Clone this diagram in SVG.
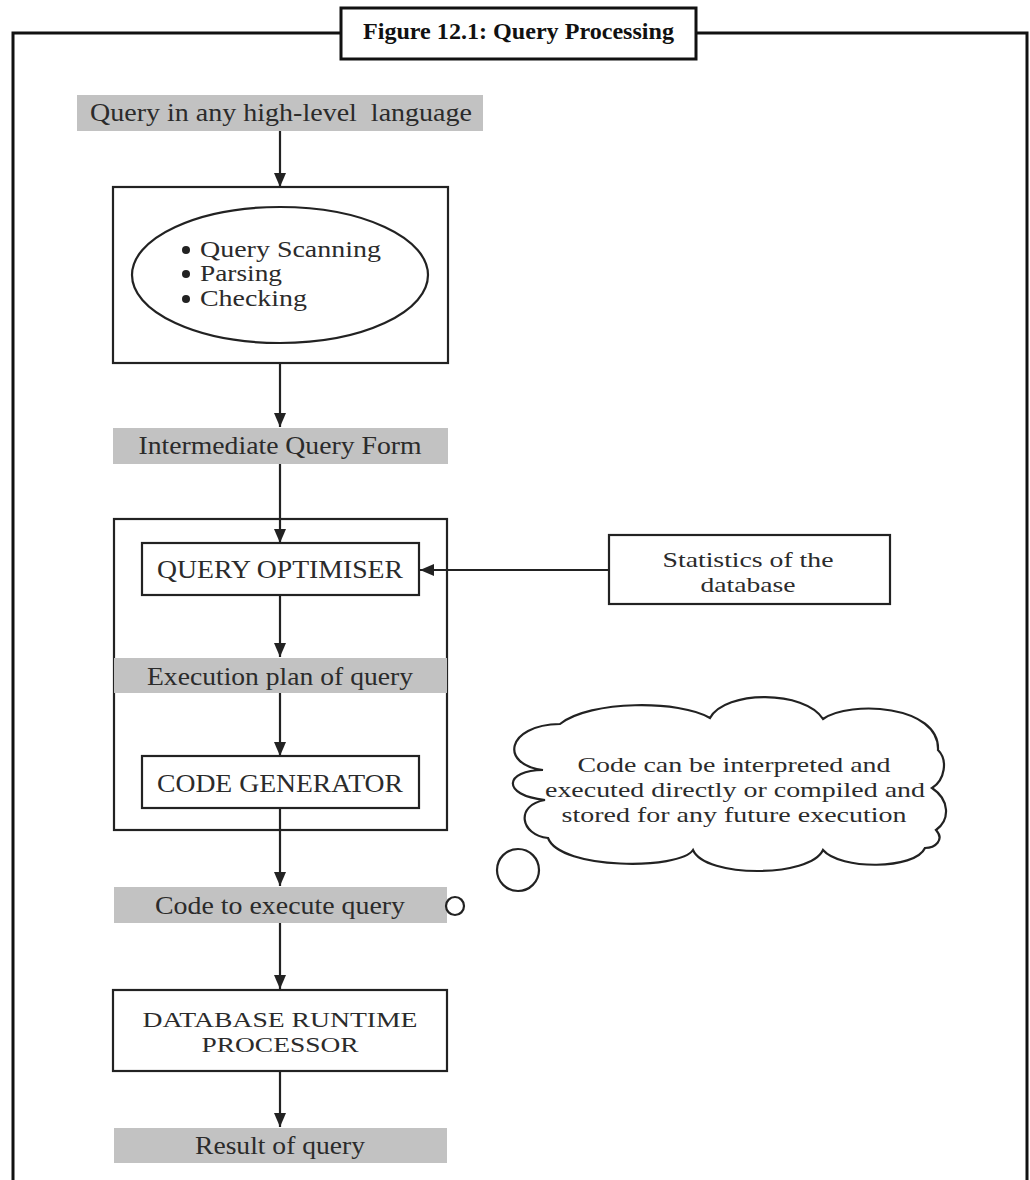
<svg xmlns="http://www.w3.org/2000/svg" width="1030" height="1180" viewBox="0 0 1030 1180">
<style>
.box{fill:#fff;stroke:#222;stroke-width:2.2}
.band{fill:#c2c2c2;stroke:none}
.t{font-family:"Liberation Serif","Times New Roman",serif;font-size:26px;fill:#2b2b2b;text-anchor:middle}
.s{font-size:22px}
.tl{font-family:"Liberation Serif","Times New Roman",serif;font-size:22.5px;fill:#2b2b2b}
.conn{stroke:#222;stroke-width:2.2;fill:none;marker-end:url(#ah)}
</style>
<defs>
<marker id="ah" viewBox="0 0 14 12" refX="14" refY="6" markerWidth="14" markerHeight="12" markerUnits="userSpaceOnUse" orient="auto">
<path d="M0,0 L14,6 L0,12 z" fill="#222"/>
</marker>
</defs>
<rect width="1030" height="1180" fill="#fff"/>
<g id="frame">
<path d="M13,1180 V33 H341 M696,33 H1027 V1180" fill="none" stroke="#111" stroke-width="3"/>
<rect x="341" y="8" width="355" height="51" fill="#fff" stroke="#111" stroke-width="3"/>
<text x="518.5" y="39" font-family="'Liberation Serif','Times New Roman',serif" font-weight="bold" font-size="23" fill="#111" text-anchor="middle" textLength="311" lengthAdjust="spacingAndGlyphs">Figure 12.1: Query Processing</text>
</g>
<g id="connectors">
<line class="conn" x1="280" y1="131" x2="280" y2="187"/>
<line class="conn" x1="280" y1="363" x2="280" y2="427"/>
<line class="conn" x1="280" y1="464" x2="280" y2="543"/>
<line class="conn" x1="609" y1="570" x2="420" y2="570"/>
<line class="conn" x1="280" y1="595" x2="280" y2="657"/>
<line class="conn" x1="280" y1="693" x2="280" y2="756"/>
<line class="conn" x1="280" y1="808" x2="280" y2="886"/>
<line class="conn" x1="280" y1="923" x2="280" y2="989"/>
<line class="conn" x1="280" y1="1071" x2="280" y2="1127"/>
</g>
<g id="query-input">
<rect class="band" x="77" y="95" width="406" height="36"/>
<text class="t" x="281" y="121" xml:space="preserve" textLength="382" lengthAdjust="spacingAndGlyphs">Query in any high-level  language</text>
</g>
<g id="scanning">
<rect class="box" x="113" y="187" width="335" height="176"/>
<ellipse cx="280" cy="275" rx="148" ry="68" fill="#fff" stroke="#222" stroke-width="2.2"/>
<circle cx="186" cy="250" r="4" fill="#222"/>
<circle cx="186" cy="274" r="4" fill="#222"/>
<circle cx="186" cy="299" r="4" fill="#222"/>
<text class="tl" x="200" y="257" textLength="181" lengthAdjust="spacingAndGlyphs">Query Scanning</text>
<text class="tl" x="200" y="281" textLength="82" lengthAdjust="spacingAndGlyphs">Parsing</text>
<text class="tl" x="200" y="306" textLength="107" lengthAdjust="spacingAndGlyphs">Checking</text>
</g>
<g id="intermediate">
<rect class="band" x="113" y="428" width="335" height="36"/>
<text class="t" x="280" y="454" textLength="283" lengthAdjust="spacingAndGlyphs">Intermediate Query Form</text>
</g>
<g id="optimiser-group">
<rect x="114" y="519" width="333" height="311" fill="none" stroke="#222" stroke-width="2.2"/>
</g>
<g id="optimiser">
<rect class="box" x="142" y="543" width="277" height="52"/>
<text class="t" x="280" y="578" textLength="246" lengthAdjust="spacingAndGlyphs">QUERY OPTIMISER</text>
</g>
<g id="statistics">
<rect class="box" x="609" y="535" width="281" height="69"/>
<text class="t s" x="748" y="567" textLength="171" lengthAdjust="spacingAndGlyphs">Statistics of the</text>
<text class="t s" x="748" y="592" textLength="95" lengthAdjust="spacingAndGlyphs">database</text>
</g>
<g id="execution-plan">
<rect class="band" x="114" y="658" width="333" height="35"/>
<text class="t" x="280" y="685" textLength="266" lengthAdjust="spacingAndGlyphs">Execution plan of query</text>
</g>
<g id="code-generator">
<rect class="box" x="142" y="756" width="277" height="52"/>
<text class="t" x="280" y="792" textLength="246" lengthAdjust="spacingAndGlyphs">CODE GENERATOR</text>
</g>
<g id="code">
<rect class="band" x="114" y="887" width="333" height="36"/>
<text class="t" x="280" y="914" textLength="250" lengthAdjust="spacingAndGlyphs">Code to execute query</text>
</g>
<g id="thought">
<path d="M543,770 C500,765 505,725 560,724 C590,700 680,700 710,718 C725,690 805,690 823,719 C850,700 940,705 938,750 C948,760 945,780 932,788 C950,800 950,820 936,830 C945,840 935,848 925,848 C915,870 840,870 823,850 C810,878 705,878 693,850 C680,870 560,870 548,838 C520,835 515,805 545,800 C500,795 505,770 543,770 Z" fill="#fff" stroke="#222" stroke-width="2.2"/>
<circle cx="518" cy="870" r="21" fill="#fff" stroke="#222" stroke-width="2.2"/>
<circle cx="455" cy="906" r="9" fill="#fff" stroke="#222" stroke-width="2.2"/>
<text class="t s" x="734" y="772" textLength="313" lengthAdjust="spacingAndGlyphs">Code can be interpreted and</text>
<text class="t s" x="735" y="797" textLength="380" lengthAdjust="spacingAndGlyphs">executed directly or compiled and</text>
<text class="t s" x="734" y="822" textLength="345" lengthAdjust="spacingAndGlyphs">stored for any future execution</text>
</g>
<g id="runtime">
<rect class="box" x="113" y="990" width="334" height="81"/>
<text class="t s" x="280" y="1027" textLength="275" lengthAdjust="spacingAndGlyphs">DATABASE RUNTIME</text>
<text class="t s" x="280" y="1052" textLength="157" lengthAdjust="spacingAndGlyphs">PROCESSOR</text>
</g>
<g id="result">
<rect class="band" x="114" y="1128" width="333" height="35"/>
<text class="t" x="280" y="1154" textLength="170" lengthAdjust="spacingAndGlyphs">Result of query</text>
</g>
</svg>
